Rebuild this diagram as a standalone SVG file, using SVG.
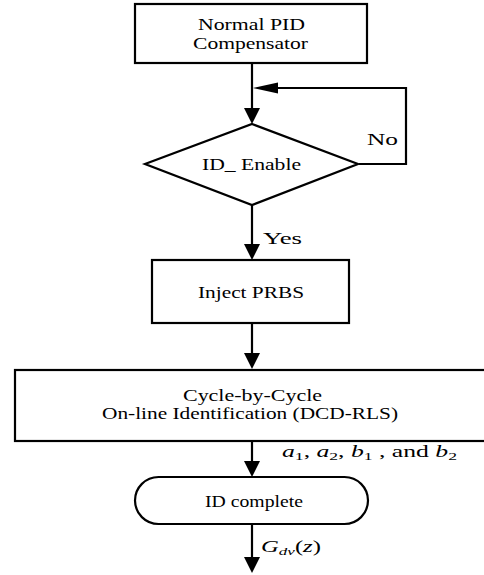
<svg xmlns="http://www.w3.org/2000/svg" width="484" height="575" viewBox="0 0 484 575">
<style>
.box{fill:#fff;stroke:#000;stroke-width:2.2}
.ln{fill:none;stroke:#000;stroke-width:2.2}
.ah{fill:#000;stroke:none}
text{font-family:"Liberation Serif","Times New Roman",serif;font-size:16px;fill:#000}
.c{text-anchor:middle}
.i{font-style:italic}
.s{font-size:11px;font-style:normal}
</style>
<rect width="484" height="575" fill="#fff"/>
<g id="connectors">
<line class="ln" x1="252" y1="63" x2="252" y2="110"/>
<polygon class="ah" points="244,108 260,108 252,124"/>
<polyline class="ln" points="359,164 406,164 406,88 276,88"/>
<polygon class="ah" points="278,82.5 278,93.5 253,88"/>
<line class="ln" x1="252" y1="205" x2="252" y2="246"/>
<polygon class="ah" points="244,244 260,244 252,260"/>
<line class="ln" x1="252" y1="323" x2="252" y2="355"/>
<polygon class="ah" points="244,353 260,353 252,369"/>
<line class="ln" x1="252" y1="441" x2="252" y2="463"/>
<polygon class="ah" points="244,461 260,461 252,477"/>
<line class="ln" x1="252" y1="524" x2="252" y2="559"/>
<polygon class="ah" points="244,557 260,557 252,573"/>
<text x="367" y="145" textLength="31" lengthAdjust="spacingAndGlyphs">No</text>
<text x="263" y="244" textLength="39" lengthAdjust="spacingAndGlyphs">Yes</text>
<text x="282" y="457" textLength="175" lengthAdjust="spacingAndGlyphs"><tspan class="i">a</tspan><tspan class="s" dy="3">1</tspan><tspan dy="-3">, </tspan><tspan class="i">a</tspan><tspan class="s" dy="3">2</tspan><tspan dy="-3">, </tspan><tspan class="i">b</tspan><tspan class="s" dy="3">1</tspan><tspan dy="-3"> , and </tspan><tspan class="i">b</tspan><tspan class="s" dy="3">2</tspan></text>
<text x="261" y="552" textLength="60" lengthAdjust="spacingAndGlyphs"><tspan class="i">G</tspan><tspan class="i" style="font-size:11px" dy="3">dv</tspan><tspan dy="-3">(</tspan><tspan class="i">z</tspan><tspan>)</tspan></text>
</g>
<g id="n1">
<rect class="box" x="135" y="4" width="232" height="59"/>
<text class="c" x="251.5" y="29.5" textLength="107" lengthAdjust="spacingAndGlyphs">Normal PID</text>
<text class="c" x="250.5" y="49" textLength="115" lengthAdjust="spacingAndGlyphs">Compensator</text>
</g>
<g id="n2">
<polygon class="box" points="252,124 358,164 252,205 145,164"/>
<text class="c" x="251.5" y="170" textLength="99" lengthAdjust="spacingAndGlyphs">ID_ Enable</text>
</g>
<g id="n3">
<rect class="box" x="152" y="260" width="197" height="63"/>
<text class="c" x="251" y="298" textLength="106" lengthAdjust="spacingAndGlyphs">Inject PRBS</text>
</g>
<g id="n4">
<rect class="box" x="15" y="370" width="480" height="71"/>
<text class="c" x="252.5" y="401" textLength="139" lengthAdjust="spacingAndGlyphs">Cycle-by-Cycle</text>
<text class="c" x="250" y="419" textLength="296" lengthAdjust="spacingAndGlyphs">On-line Identification (DCD-RLS)</text>
</g>
<g id="n5">
<rect class="box" x="135" y="477" width="233" height="47" rx="23.5" ry="23.5"/>
<text class="c" x="254" y="507" textLength="98" lengthAdjust="spacingAndGlyphs">ID complete</text>
</g>
</svg>
